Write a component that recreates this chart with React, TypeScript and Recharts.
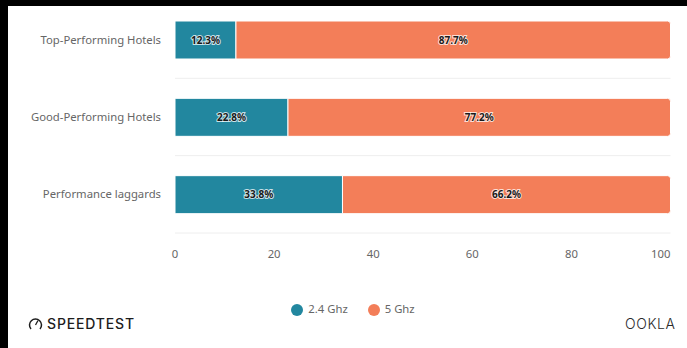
import { BarChart, Bar, XAxis, YAxis, CartesianGrid, Legend, LabelList } from 'recharts'

const categories = ['Top-Performing Hotels', 'Good-Performing Hotels', 'Performance laggards']
const ghz24 = [12.3, 22.8, 33.8]
const ghz5 = [87.7, 77.2, 66.2]
const xTicks = [0, 20, 40, 60, 80, 100]

const data = categories.map((name, i) => ({ name, ghz24: ghz24[i], ghz5: ghz5[i] }))

const FONT = '"Noto Sans", sans-serif'
const TEAL = '#22879f'
const ORANGE = '#f37e59'

const labelStyle = {
  fontFamily: FONT,
  fontSize: 10,
  fontWeight: 700,
  fill: '#1a1a1a',
  stroke: '#ffffff',
  strokeWidth: 2,
  strokeOpacity: 0.75,
  paintOrder: 'stroke',
} as const

function XTick({ x, y, payload }: any) {
  return (
    <text
      x={x}
      y={y}
      dy={4}
      textAnchor={payload.value === 100 ? 'end' : 'middle'}
      fontFamily={FONT}
      fontSize={11.3}
      fill="#666666"
    >
      {payload.value}
    </text>
  )
}

export default function App() {
  return (
    <div style={{ position: 'absolute', left: 0, top: 0, width: 687, height: 348, background: '#000', overflow: 'hidden' }}>
      <div style={{ position: 'absolute', left: 8, top: 6, width: 679, height: 342, background: '#fff' }} />
      <div style={{ position: 'absolute', left: 0, top: 0 }}>
        <BarChart
          width={687}
          height={348}
          layout="vertical"
          data={data}
          barSize={38}
          margin={{ top: 1, right: 16.5, bottom: 60, left: 0 }}
        >
          <CartesianGrid
            vertical={false}
            stroke="#eeeeee"
            horizontalCoordinatesGenerator={({ offset }: any) =>
              [1, 2, 3].map((i) => offset.top + (offset.height * i) / 3)
            }
          />
          <XAxis
            type="number"
            domain={[0, 100]}
            ticks={xTicks}
            tick={<XTick />}
            tickLine={false}
            axisLine={false}
            tickMargin={15}
            height={40}
          />
          <YAxis
            type="category"
            dataKey="name"
            width={175}
            tick={{ fontFamily: FONT, fontSize: 11.3, fill: '#666666' }}
            tickLine={false}
            axisLine={false}
            tickMargin={8}
          />
          <Legend
            layout="horizontal"
            verticalAlign="bottom"
            iconType="circle"
            iconSize={12}
            wrapperStyle={{ left: 0, width: 726, bottom: 32, fontFamily: FONT, fontSize: 11.3 }}
            formatter={(value) => <span style={{ color: '#666666', marginLeft: 1, marginRight: 10 }}>{value}</span>}
          />
          <Bar dataKey="ghz24" name="2.4 Ghz" stackId="a" fill={TEAL} stroke="#ffffff" strokeWidth={1} isAnimationActive={false}>
            <LabelList dataKey="ghz24" position="center" formatter={(v: any) => `${v}%`} style={labelStyle} />
          </Bar>
          <Bar dataKey="ghz5" name="5 Ghz" stackId="a" fill={ORANGE} stroke="#ffffff" strokeWidth={1} radius={[0, 3, 3, 0]} isAnimationActive={false}>
            <LabelList dataKey="ghz5" position="center" formatter={(v: any) => `${v}%`} style={labelStyle} />
          </Bar>
        </BarChart>
      </div>

      {/* logos */}
      <svg width={687} height={348} style={{ position: 'absolute', left: 0, top: 0 }}>
        <path d="M31 329 A6 6 0 1 1 40 329" fill="none" stroke="#1d1d1d" strokeWidth={1.5} />
        <path d="M35.5 325 L38 320.5" stroke="#1d1d1d" strokeWidth={1.3} />
        <text x={47} y={329} fontFamily="Inter, sans-serif" fontSize={14} fontWeight={500} fill="#1d1d1d" letterSpacing={0.85}>
          SPEEDTEST
        </text>
        <text x={625} y={329} fontFamily="Inter, sans-serif" fontSize={14} fontWeight={300} fill="#2a2a2a" letterSpacing={0.6}>
          OOKLA
        </text>
      </svg>
    </div>
  )
}
